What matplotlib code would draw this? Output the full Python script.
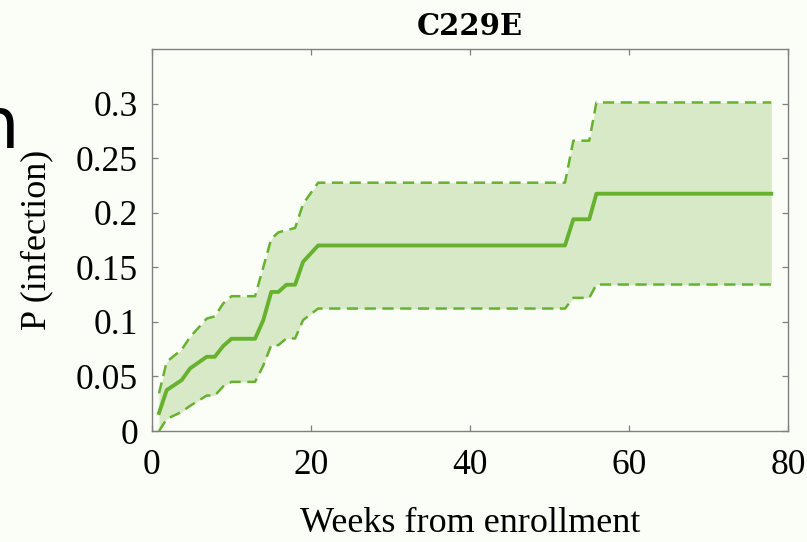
import numpy as np
import matplotlib.pyplot as plt

# cumulative infection probability, C229E
weeks = [0.88, 1.85, 3.73, 4.78, 6.88, 7.9, 8.97, 10.0, 12.96, 14.0, 15.0,
         15.9, 16.9, 18.0, 19.0, 20.9, 51.95, 53.0, 55.0, 55.9, 77.9]
p_est = [0.0165, 0.0375, 0.0466, 0.0573, 0.068, 0.068, 0.078, 0.0845, 0.0845, 0.1016, 0.1274,
         0.1274, 0.134, 0.134, 0.155, 0.170, 0.170, 0.194, 0.194, 0.2174, 0.2174]
p_low = [0.0, 0.011, 0.0175, 0.023, 0.0325, 0.0325, 0.041, 0.045, 0.045, 0.060, 0.0787,
         0.0787, 0.0848, 0.0848, 0.1016, 0.1122, 0.1122, 0.122, 0.122, 0.1342, 0.1342]
p_high = [0.0345, 0.0634, 0.0745, 0.086, 0.103, 0.105, 0.117, 0.1235, 0.1235, 0.150, 0.176,
          0.182, 0.184, 0.186, 0.208, 0.2275, 0.2275, 0.266, 0.266, 0.301, 0.301]

green = '#66b22e'
fill = '#d8e9c8'
bg = '#fbfdf7'
grey = '#808080'

plt.rcParams['font.family'] = ['Liberation Serif', 'DejaVu Serif']

fig = plt.figure(figsize=(8.07, 5.42), dpi=100, facecolor=bg)
ax = fig.add_axes([152/807, 111/542, 636/807, 382/542], facecolor=bg)

dash = (0, (4.5, 2.6))
ax.fill_between(weeks, p_low, p_high, color=fill, lw=0)
ax.plot(weeks, p_high, color=green, lw=1.8, ls=dash)
ax.plot(weeks, p_low, color=green, lw=1.8, ls=dash)
ax.plot(weeks, p_est, color=green, lw=2.8)

ax.set_xlim(0, 80)
ax.set_ylim(0, 0.35)
ax.set_xticks([0, 20, 40, 60, 80])
ax.set_yticks([0, 0.05, 0.1, 0.15, 0.2, 0.25, 0.3])
ax.set_yticklabels(['0', '0.05', '0.1', '0.15', '0.2', '0.25', '0.3'])

for s in ax.spines.values():
    s.set_color(grey)
    s.set_linewidth(1.0)
ax.tick_params(direction='in', length=4.5, width=0.9, color=grey,
               top=True, right=True, labelsize=25.5, labelcolor='black')
ax.tick_params(axis='x', pad=13)
ax.tick_params(axis='y', pad=10)

ax.set_xlabel('Weeks from enrollment', fontsize=26)
ax.set_ylabel('P (infection)', fontsize=26)
ax.xaxis.set_label_coords(0.5, -0.2)
ax.yaxis.set_label_coords(-0.155, 0.5)
ax.set_title('C229E', fontsize=21, fontweight='bold', family='DejaVu Serif', pad=10)

# panel letter, cut at the left edge
fig.text(19/807, 1 - 148/542, 'n', fontsize=52, family='DejaVu Sans',
         ha='right', va='baseline', color='black')

fig.savefig('out.png', dpi=100, facecolor=bg)
